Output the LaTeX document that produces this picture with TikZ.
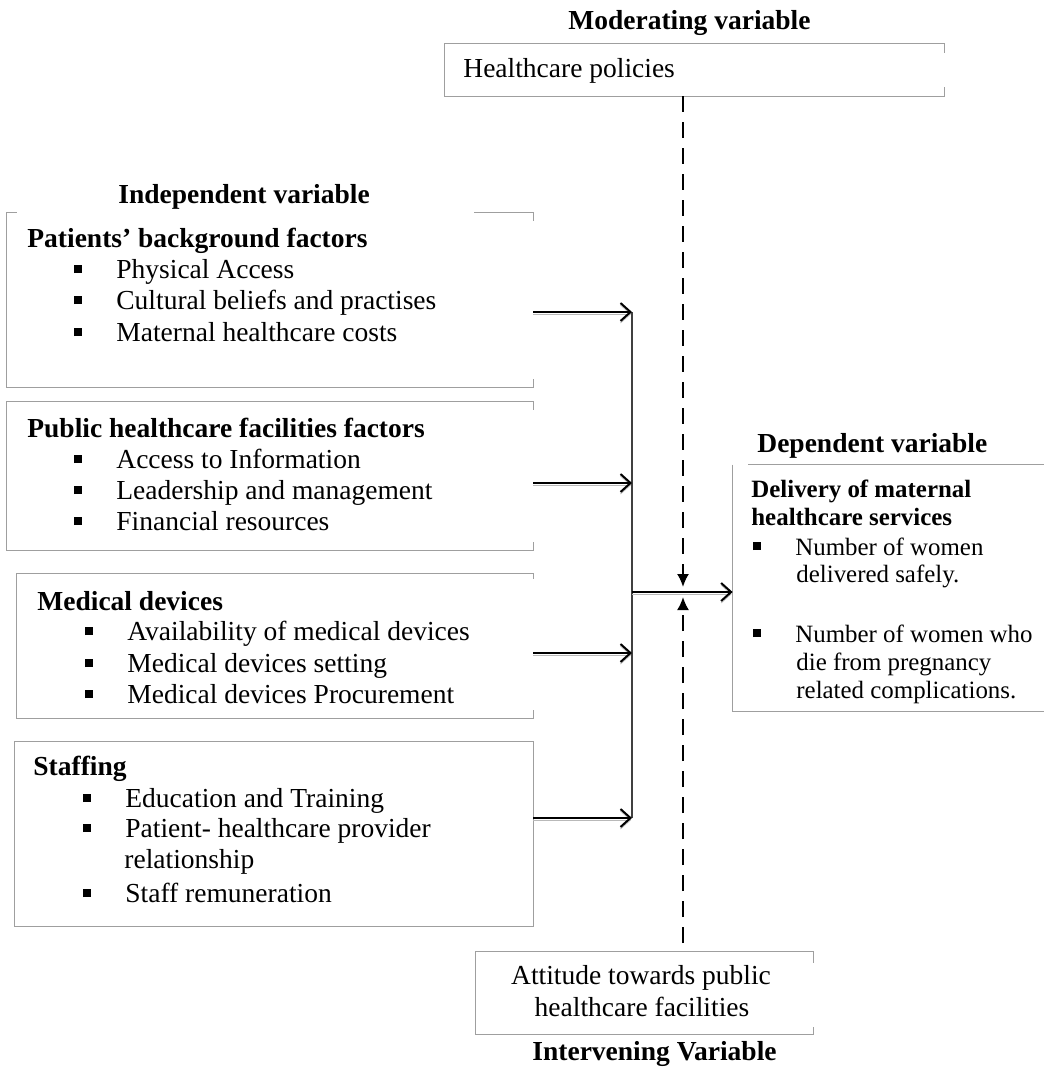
\documentclass[tikz,border=0pt]{standalone}
\usepackage{fontspec}
\setmainfont{Liberation Serif}
\usetikzlibrary{arrows.meta,fit}

\newcommand{\bul}{\makebox[21pt][l]{\rule[2.5pt]{4pt}{4pt}}}

\tikzset{
  box/.style={inner sep=0pt},
  rim/.style={draw=gray!75, line width=0.6pt},
  txt/.style={anchor=base west, inner sep=0pt, font=\fontsize{13.75}{16}\selectfont},
  hd/.style={txt, font=\fontsize{13.75}{16}\selectfont\bfseries},
  sm/.style={anchor=base west, inner sep=0pt, font=\fontsize{12.45}{15}\selectfont},
  smhd/.style={sm, font=\fontsize{12.45}{15}\selectfont\bfseries},
  bus/.style={draw=black!75, line width=0.7pt},
  feed/.style={line width=1pt, -{Straight Barb[length=5pt,width=9pt]},
    preaction={draw=gray!55, transform canvas={yshift=-1pt}}},
  modarrow/.style={dash pattern=on 8pt off 5pt, line width=1pt, -{Latex[length=6.5pt,width=6pt]}},
}

\begin{document}
\begin{tikzpicture}[x=0.5pt, y=-0.5pt]
    \useasboundingbox (0,0) rectangle (1044,1067);

    % moderating variable
    \node[hd] (mod) at (568,29) {Moderating variable};
    \node[box, fit={(445,44) (944,96)}] (pol) {};
    \draw[rim] (pol.north east) ++(0,9) -- (pol.north east) -- (pol.north west)
        -- (pol.south west) -- (pol.south east) -- ++(0,-9);
    \node[txt] (pol-t) at (463,77) {Healthcare policies};

    % independent variables
    \node[hd] (ind) at (118,203) {Independent variable};

    \node[box, fit={(7,213) (533,387)}] (pbf) {};
    \draw[rim] (pbf.north west) ++(10,0) -- (pbf.north west) -- (pbf.south west)
        -- (pbf.south east) -- ++(0,-8);
    \draw[rim] (pbf.north east) ++(-59,0) -- (pbf.north east) -- ++(0,8);
    \node[hd] (pbf-t) at (27,247) {Patients’ background factors};
    \node[txt] (pbf-1) at (74,278) {\bul Physical Access};
    \node[txt] (pbf-2) at (74,309) {\bul Cultural beliefs and practises};
    \node[txt] (pbf-3) at (74,341) {\bul Maternal healthcare costs};

    \node[box, fit={(7,402) (533,550)}] (phf) {};
    \draw[rim] (phf.north east) ++(0,8) -- (phf.north east) -- (phf.north west)
        -- (phf.south west) -- (phf.south east) -- ++(0,-8);
    \node[hd] (phf-t) at (27,437) {Public healthcare facilities factors};
    \node[txt] (phf-1) at (74,468) {\bul Access to Information};
    \node[txt] (phf-2) at (74,499) {\bul Leadership and management};
    \node[txt] (phf-3) at (74,530) {\bul Financial resources};

    \node[box, fit={(17,574) (533,718)}] (med) {};
    \draw[rim] (med.north east) ++(0,5) -- (med.north east) -- (med.north west)
        -- (med.south west) -- (med.south east) -- ++(0,-8);
    \node[hd] (med-t) at (37,610) {Medical devices};
    \node[txt] (med-1) at (85,640) {\bul Availability of medical devices};
    \node[txt] (med-2) at (85,672) {\bul Medical devices setting};
    \node[txt] (med-3) at (85,703) {\bul Medical devices Procurement};

    \node[box, fit={(15,742) (533,926)}] (stf) {};
    \draw[rim] (stf.north west) rectangle (stf.south east);
    \node[hd] (stf-t) at (33,775) {Staffing};
    \node[txt] (stf-1) at (83,807) {\bul Education and Training};
    \node[txt] (stf-2) at (83,837) {\bul Patient- healthcare provider};
    \node[txt] (stf-2b) at (124,868) {relationship};
    \node[txt] (stf-3) at (83,902) {\bul Staff remuneration};

    % dependent variable
    \node[hd] (dep-t) at (757,452) {Dependent variable};
    \node[box, fit={(733,465) (1044,711)}] (dep) {};
    \draw[rim] (dep.north east) -- ++(-296,0);
    \draw[rim] (dep.north west) -- (dep.south west) -- (dep.south east);
    \node[smhd] (dep-1) at (751,497) {Delivery of maternal};
    \node[smhd] (dep-2) at (751,525) {healthcare services};
    \node[sm] (dep-3) at (753,555) {\bul Number of women};
    \node[sm] (dep-4) at (796,582) {delivered safely.};
    \node[sm] (dep-5) at (753,642) {\bul Number of women who};
    \node[sm] (dep-6) at (796,670) {die from pregnancy};
    \node[sm] (dep-7) at (796,698) {related complications.};

    % intervening variable
    \node[box, fit={(476,952) (813,1034)}] (att) {};
    \draw[rim] (att.north east) ++(0,11) -- (att.north east) -- (att.north west)
        -- (att.south west) -- (att.south east) -- ++(0,-7);
    \node[txt, anchor=base] (att-1) at (641,984) {Attitude towards public};
    \node[txt, anchor=base] (att-2) at (642,1016) {healthcare facilities};
    \node[hd] (itv) at (532,1060) {Intervening Variable};

    % connectors
    \coordinate (b1) at (632,312);
    \coordinate (b2) at (632,483);
    \coordinate (b3) at (632,653);
    \coordinate (b4) at (632,818);
    \coordinate (bm) at (632,592);
    \coordinate (jt) at (683,587);
    \coordinate (jb) at (683,597);
    \coordinate (ae) at (683,943);

    \draw[bus] (b1) -- (b4);
    \draw[feed] (pbf.east |- b1) -- (b1);
    \draw[feed] (phf.east |- b2) -- (b2);
    \draw[feed] (med.east |- b3) -- (b3);
    \draw[feed] (stf.east |- b4) -- (b4);
    \draw[feed] (bm) -- (bm -| dep.west);

    \draw[modarrow] (jt |- pol.south) -- (jt);
    \draw[modarrow] (ae) -- (jb);
\end{tikzpicture}
\end{document}
